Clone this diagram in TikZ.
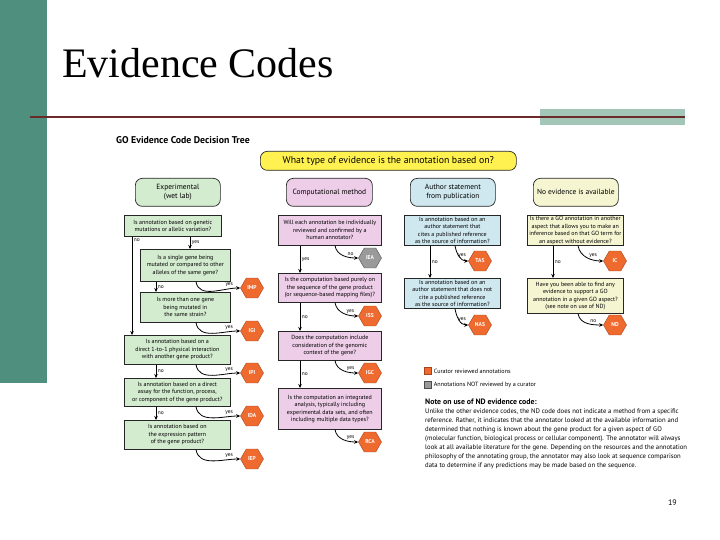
\documentclass[tikz,border=0pt]{standalone}
\usepackage{fontspec}
\setmainfont{Liberation Serif}
\setsansfont{PT Sans}
\usetikzlibrary{shapes.geometric,calc,arrows.meta}
\definecolor{bargreen}{HTML}{4F8F7E}
\definecolor{ruleaccent}{HTML}{A2C6B8}
\definecolor{rulered}{HTML}{6B2A2A}
\definecolor{topyellow}{HTML}{FFF250}
\definecolor{expgreen}{HTML}{D3EBCF}
\definecolor{comppink}{HTML}{EDCDE8}
\definecolor{authblue}{HTML}{CFE8EF}
\definecolor{noevyellow}{HTML}{F5F5D2}
\definecolor{hexorange}{HTML}{EE6A2F}
\definecolor{hexedge}{HTML}{A8441A}
\definecolor{hexgray}{HTML}{9A9A9A}
\newcommand{\boxfont}{\sffamily\fontsize{6}{7.5}\selectfont}
\newcommand{\headfont}{\sffamily\fontsize{7.5}{9}\selectfont}
\newcommand{\hexfont}{\sffamily\bfseries\fontsize{5.6}{6}\selectfont}
\newcommand{\lblfont}{\sffamily\fontsize{5.4}{6}\selectfont}
\newcommand{\notefont}{\sffamily\fontsize{6.7}{9}\selectfont}

\begin{document}
\begin{tikzpicture}[x=1pt, y=-1pt,
  qbox/.style={draw=black!85, line width=0.7pt, align=center, anchor=north west, inner sep=1pt, font=\boxfont},
  headbox/.style={qbox, rounded corners=7pt, font=\headfont},
  hexcode/.style={regular polygon, regular polygon sides=6, minimum size=23pt, inner sep=0pt, draw=hexedge, fill=hexorange, text=white, font=\hexfont},
  arr/.style={-{Stealth[length=4pt,width=3.5pt]}, line width=0.8pt},
  lbl/.style={font=\lblfont, inner sep=1.5pt},
  legsq/.style={draw, minimum size=7pt, inner sep=0pt}]
\useasboundingbox (0,0) rectangle (720,540);
\fill[white] (0,0) rectangle (720,540);
% slide frame
\fill[bargreen] (0,0) rectangle (47,383);
\fill[ruleaccent] (540,109) rectangle (685,125);
\draw[rulered, line width=2pt] (30,117) -- (685,117);
\node[anchor=base west, inner sep=0pt, font=\fontsize{42}{42}\selectfont] (title) at (62,78) {Evidence Codes};
\node[anchor=base east, inner sep=0pt, font=\sffamily\fontsize{8}{8}\selectfont] (pagenum) at (677,505) {19};

% decision tree
\node[anchor=west, inner sep=0pt, font=\sffamily\bfseries\fontsize{9.8}{10}\selectfont] (treetitle) at (116,140) {GO Evidence Code Decision Tree};
\node[headbox, fill=topyellow, font=\sffamily\fontsize{9.8}{10}\selectfont, minimum width=256pt, minimum height=19pt] (question) at (260,151) {What type of evidence is the annotation based on?};

\node[headbox, fill=expgreen, minimum width=85pt, minimum height=28pt] (exp) at (135,178) {Experimental\\(wet lab)};
\node[headbox, fill=comppink, minimum width=86pt, minimum height=28pt] (comp) at (286,178) {Computational method};
\node[headbox, fill=authblue, minimum width=85pt, minimum height=28pt] (auth) at (410,178) {Author statement\\from publication};
\node[headbox, fill=noevyellow, minimum width=85pt, minimum height=28pt] (noev) at (533,178) {No evidence is available};

% experimental
\node[qbox, fill=expgreen, minimum width=97pt, minimum height=21pt] (q1) at (124,215) {Is annotation based on genetic\\mutations or allelic variation?};
\node[qbox, fill=expgreen, minimum width=90pt, minimum height=32pt] (q2) at (140,249) {Is a single gene being\\mutated or compared to other\\alleles of the same gene?};
\node[qbox, fill=expgreen, minimum width=90pt, minimum height=30pt] (q3) at (140,292) {Is more than one gene\\being mutated in\\the same strain?};
\node[qbox, fill=expgreen, minimum width=106pt, minimum height=29pt] (q4) at (124,335) {Is annotation based on a\\direct 1-to-1 physical interaction\\with another gene product?};
\node[qbox, fill=expgreen, minimum width=106pt, minimum height=28pt] (q5) at (124,378) {Is annotation based on a direct\\assay for the function, process,\\or component of the gene product?};
\node[qbox, fill=expgreen, minimum width=106pt, minimum height=29pt] (q6) at (124,420) {Is annotation based on\\the expression pattern\\of the gene product?};
\node[hexcode] (imp) at (252,288) {IMP};
\node[hexcode] (igi) at (252,331) {IGI};
\node[hexcode] (ipi) at (252,373) {IPI};
\node[hexcode] (ida) at (252,416) {IDA};
\node[hexcode] (iep) at (252,459) {IEP};

% computational
\node[qbox, fill=comppink, minimum width=103pt, minimum height=30pt] (c1) at (278,215) {Will each annotation be individually\\reviewed and confirmed by a\\human annotator?};
\node[qbox, fill=comppink, minimum width=103pt, minimum height=29pt] (c2) at (278,273) {Is the computation based purely on\\the sequence of the gene product\\(or sequence-based mapping files)?};
\node[qbox, fill=comppink, minimum width=103pt, minimum height=29pt] (c3) at (278,331) {Does the computation include\\consideration of the genomic\\context of the gene?};
\node[qbox, fill=comppink, minimum width=103pt, minimum height=41pt] (c4) at (278,388) {Is the computation an integrated\\analysis, typically including\\experimental data sets, and often\\including multiple data types?};
\node[hexcode, fill=hexgray, draw=black!70] (iea) at (370,258) {IEA};
\node[hexcode] (iss) at (370,316) {ISS};
\node[hexcode] (igc) at (370,373) {IGC};
\node[hexcode] (rca) at (370,442) {RCA};

% author statement
\node[qbox, fill=authblue, minimum width=96pt, minimum height=30pt] (a1) at (404,215) {Is annotation based on an\\author statement that\\cites a published reference\\as the source of information?};
\node[qbox, fill=authblue, minimum width=96pt, minimum height=30pt] (a2) at (404,278) {Is annotation based on an\\author statement that does not\\cite a published reference\\as the source of information?};
\node[hexcode] (tas) at (480,261) {TAS};
\node[hexcode] (nas) at (480,325) {NAS};

% no evidence
\node[qbox, fill=noevyellow, minimum width=96pt, minimum height=30pt] (n1) at (527,215) {Is there a GO annotation in another\\aspect that allows you to make an\\inference based on that GO term for\\an aspect without evidence?};
\node[qbox, fill=noevyellow, minimum width=96pt, minimum height=35pt] (n2) at (527,278) {Have you been able to find any\\evidence to support a GO\\annotation in a given GO aspect?\\(see note on use of ND)};
\node[hexcode] (ic) at (615,261) {IC};
\node[hexcode] (nd) at (615,325) {ND};

% connectors, experimental
\coordinate (q1no) at ($(q1.south west)+(8,0)$);
\draw[arr] (q1no) -- (q1no |- q4.north) node[lbl, pos=0.04, right] {no};
\coordinate (q1yes) at ($(q1.south west)+(66,0)$);
\draw[arr] (q1yes) -- (q1yes |- q2.north) node[lbl, midway, right] {yes};
\coordinate (q2no) at ($(q2.south west)+(16,0)$);
\draw[arr] (q2no) -- (q2no |- q3.north) node[lbl, midway, right] {no};
\draw[arr] ($(q2.south west)+(56,0)$) to[out=-80, in=180] node[lbl, pos=0.8, above] {yes} (imp.west);
\draw[arr] ($(q3.south west)+(56,0)$) to[out=-80, in=180] node[lbl, pos=0.8, above] {yes} (igi.west);
\coordinate (q4no) at ($(q4.south west)+(32,0)$);
\draw[arr] (q4no) -- (q4no |- q5.north) node[lbl, midway, right] {no};
\draw[arr] ($(q4.south west)+(72,0)$) to[out=-80, in=180] node[lbl, pos=0.8, above] {yes} (ipi.west);
\coordinate (q5no) at ($(q5.south west)+(32,0)$);
\draw[arr] (q5no) -- (q5no |- q6.north) node[lbl, midway, right] {no};
\draw[arr] ($(q5.south west)+(72,0)$) to[out=-80, in=180] node[lbl, pos=0.8, above] {yes} (ida.west);
\draw[arr] ($(q6.south west)+(72,0)$) to[out=-80, in=180] node[lbl, pos=0.8, above] {yes} (iep.west);

% connectors, computational
\coordinate (c1yes) at ($(c1.south west)+(22,0)$);
\draw[arr] (c1yes) -- (c1yes |- c2.north) node[lbl, midway, right] {yes};
\draw[arr] ($(c1.south west)+(57,0)$) to[out=-80, in=180] node[lbl, pos=0.75, above] {no} (iea.west);
\coordinate (c2no) at ($(c2.south west)+(22,0)$);
\draw[arr] (c2no) -- (c2no |- c3.north) node[lbl, midway, right] {no};
\draw[arr] ($(c2.south west)+(57,0)$) to[out=-80, in=180] node[lbl, pos=0.75, above] {yes} (iss.west);
\coordinate (c3no) at ($(c3.south west)+(22,0)$);
\draw[arr] (c3no) -- (c3no |- c4.north) node[lbl, midway, right] {no};
\draw[arr] ($(c3.south west)+(57,0)$) to[out=-80, in=180] node[lbl, pos=0.75, above] {yes} (igc.west);
\draw[arr] ($(c4.south west)+(57,0)$) to[out=-80, in=180] node[lbl, pos=0.75, above] {yes} (rca.west);

% connectors, author statement and no evidence
\coordinate (a1no) at ($(a1.south west)+(26,0)$);
\draw[arr] (a1no) -- (a1no |- a2.north) node[lbl, midway, right] {no};
\draw[arr] ($(a1.south west)+(51,0)$) to[out=-80, in=180] node[lbl, pos=0.7, above] {yes} (tas.west);
\draw[arr] ($(a2.south west)+(51,0)$) to[out=-80, in=180] node[lbl, pos=0.7, above] {yes} (nas.west);
\coordinate (n1no) at ($(n1.south west)+(26,0)$);
\draw[arr] (n1no) -- (n1no |- n2.north) node[lbl, midway, right] {no};
\draw[arr] ($(n1.south west)+(51,0)$) to[out=-80, in=180] node[lbl, pos=0.7, above] {yes} (ic.west);
\draw[arr] ($(n2.south west)+(51,0)$) to[out=-80, in=180] node[lbl, pos=0.7, above] {no} (nd.west);

% legend and note
\node[legsq, fill=hexorange, draw=hexedge] (legcur) at (428,371) {};
\node[anchor=west, font=\sffamily\fontsize{6.1}{7}\selectfont, inner sep=2pt] (legcurtext) at (legcur.east) {Curator reviewed annotations};
\node[legsq, fill=hexgray, draw=black!70] (legnot) at (428,385) {};
\node[anchor=west, font=\sffamily\fontsize{6.1}{7}\selectfont, inner sep=2pt] (legnottext) at (legnot.east) {Annotations NOT reviewed by a curator};
\node[anchor=north west, inner sep=0pt, align=left, font=\notefont] (note) at (425,399) {{\bfseries\fontsize{7.8}{9}\selectfont Note on use of ND evidence code:}\\
Unlike the other evidence codes, the ND code does not indicate a method from a specific\\
reference. Rather, it indicates that the annotator looked at the available information and\\
determined that nothing is known about the gene product for a given aspect of GO\\
(molecular function, biological process or cellular component). The annotator will always\\
look at all available literature for the gene. Depending on the resources and the annotation\\
philosophy of the annotating group, the annotator may also look at sequence comparison\\
data to determine if any predictions may be made based on the sequence.};
\end{tikzpicture}
\end{document}
